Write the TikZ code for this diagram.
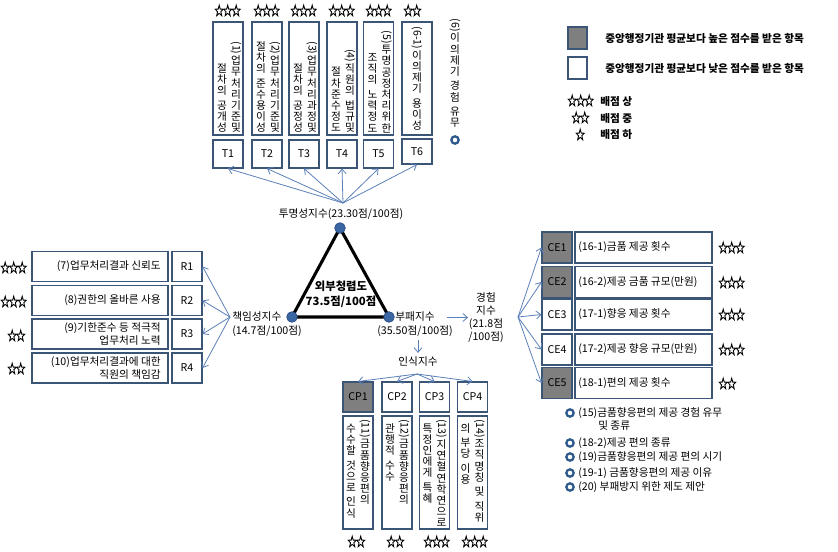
\documentclass[tikz,border=0pt]{standalone}
\usepackage{fontspec}
\setmainfont{Noto Sans CJK KR}
\usetikzlibrary{arrows.meta}
\definecolor{boxc}{HTML}{3B5576}
\definecolor{arrc}{HTML}{5B80B8}
\definecolor{dotc}{HTML}{3A66A4}
\definecolor{dotb}{HTML}{2B4D7E}
\definecolor{grayf}{HTML}{7F7F7F}
\definecolor{ringc}{HTML}{2F5A8C}
\newcommand\rp[1]{\rotatebox[origin=c]{-90}{#1}}
% stars: count, left x, centre y
\newcommand\starsat[3]{\foreach \i in {1,...,#1} \pic at ({#2+4.2+8.5*(\i-1)},#3) {starp};}
\ExplSyntaxOn
\cs_new:Npn \my_vitems:n #1
  {
    \baselineskip=8.4pt\relax
    \lineskiplimit=0pt\relax
    \lineskip=1pt\relax
    \tl_map_inline:nn {#1}
      {
        \str_if_eq:nnTF {##1} {|}
          { \kern 2.5pt\relax }
          { \hbox_to_wd:nn {1.05em} { \hss ##1 \hss } }
      }
  }
\NewDocumentCommand\vcolB{m}{\vbox{\my_vitems:n{#1}}}
\NewDocumentCommand\vcolT{m}{\vtop{\my_vitems:n{#1}}}
\ExplSyntaxOff
\begin{document}
\begin{tikzpicture}[x=0.75pt,y=-0.75pt,
  every node/.style={font=\fontsize{8pt}{10pt}\selectfont, inner sep=0pt},
  bx/.style 2 args={draw=boxc, line width=0.8pt, minimum width=#1*0.75pt, minimum height=#2*0.75pt, fill=white},
  gbx/.style 2 args={bx={#1}{#2}, fill=grayf},
  arr/.style={draw=arrc, line width=0.6pt, -{Straight Barb[length=3.5pt,width=6pt]}},
  dot/.style={circle, fill=dotc, draw=dotb, line width=0.5pt, minimum size=8pt},
  ring/.style={circle, draw=ringc, line width=1.7pt, minimum size=5.5pt, fill=white},
  lgd/.style={font=\bfseries\fontsize{8pt}{10pt}\selectfont},
  starp/.pic={\draw[line width=0.65pt, line join=miter, yscale=1.35]
     (-90:4.3) -- (-54:1.75) -- (-18:4.3) -- (18:1.75) -- (54:4.3) -- (90:1.75)
     -- (126:4.3) -- (162:1.75) -- (198:4.3) -- (234:1.75) -- cycle;},
]
\useasboundingbox (0,0) rectangle (838,552);

% ---------- top: transparency ----------
\node[bx={30}{113}] (T1b) at (228,78.5) {};
\node[bx={30}{113}] (T2b) at (267,78.5) {};
\node[bx={30}{113}] (T3b) at (304,78.5) {};
\node[bx={30}{113}] (T4b) at (342,78.5) {};
\node[bx={30}{113}] (T5b) at (378.5,78.5) {};
\node[bx={30}{113}] (T6b) at (417,78.5) {};
\node[anchor=south] (T1t) at (229,133) {\vcolB{절차의|공개성}\hskip2pt\vcolB{{\rp{(1)}}업무처리기준및}};
\node[anchor=south] (T2t) at (268,133) {\vcolB{절차의|준수용이성}\hskip2pt\vcolB{{\rp{(2)}}업무처리기준및}};
\node[anchor=south] (T3t) at (305,133) {\vcolB{절차의|공정성}\hskip2pt\vcolB{{\rp{(3)}}업무처리과정및}};
\node[anchor=south] (T4t) at (343,133) {\vcolB{절차준수정도}\hskip2pt\vcolB{{\rp{(4)}}직원의|법규및}};
\node[anchor=south] (T5t) at (379.5,133) {\vcolB{조직의|노력정도}\hskip2pt\vcolB{{\rp{(5)}}투명공정처리위한}};
\node[anchor=south] (T6t) at (417,131) {\vcolB{{\rp{(6-1)}}이의제기|용이성}};
\node[anchor=south] (T7t) at (455,128) {\vcolB{{\rp{(6)}}이의제기|경험|유무}};
\node[ring] (T7r) at (455,140) {};

\node[bx={30}{28}] (T1) at (228,154) {T1};
\node[bx={30}{28}] (T2) at (267,154) {T2};
\node[bx={30}{28}] (T3) at (304,154) {T3};
\node[bx={30}{28}] (T4) at (342,154) {T4};
\node[bx={30}{28}] (T5) at (378.5,154) {T5};
\node[bx={30}{25}] (T6) at (417,151.5) {T6};

\starsat{3}{215}{11}
\starsat{3}{254}{11}
\starsat{3}{291}{11}
\starsat{3}{329}{11}
\starsat{3}{366}{11}
\starsat{2}{404}{11}

\coordinate (TP) at (343,203);
\foreach \t in {T1,T2,T3,T4,T5,T6} \draw[arr] (TP) -- (\t.south);
\node (TL) at (341,214) {투명성지수(23.30점/100점)};

% ---------- triangle ----------
\coordinate (v1) at (340,228);
\coordinate (v2) at (292,317);
\coordinate (v3) at (389,317);
\draw[line width=2.3pt, line join=miter] (v1) -- (v2) -- (v3) -- cycle;
\node[dot] (V1) at (v1) {};
\node[dot] (V2) at (v2) {};
\node[dot] (V3) at (v3) {};
\node[align=center, font=\bfseries\fontsize{8.5pt}{11pt}\selectfont] (IN) at (341,294) {외부청렴도\\73.5점/100점};

\node[anchor=west, align=left, font=\fontsize{8pt}{10.5pt}\selectfont] (RL) at (232,324) {책임성지수\\(14.7점/100점)};
\node[align=center, font=\fontsize{8pt}{10.5pt}\selectfont] (BL) at (415,324) {부패지수\\(35.50점/100점)};
\node[align=center, font=\fontsize{8pt}{9.8pt}\selectfont] (EX) at (486,317.5) {경험\\지수\\(21.8점\\/100점)};
\coordinate (a1) at (447,317.5);
\draw[arr] (a1) -- (EX.west);
\node (IS) at (418,362) {인식지수};
\coordinate (a2) at (418,340);
\draw[arr, shorten >=3pt] (a2) -- (IS.north);

% ---------- left: responsibility ----------
\node[bx={136}{30}] (R1b) at (100,266.5) {};
\node[bx={136}{30}] (R2b) at (100,300.5) {};
\node[bx={136}{30}] (R3b) at (100,334) {};
\node[bx={136}{30}] (R4b) at (100,368) {};
\node[anchor=east, align=right] (R1t) at (161,266.5) {(7)업무처리결과 신뢰도};
\node[anchor=east, align=right] (R2t) at (161,300.5) {(8)권한의 올바른 사용};
\node[anchor=east, align=right] (R3t) at (161,334) {(9)기한준수 등 적극적\\업무처리 노력};
\node[anchor=east, align=right] (R4t) at (161,368) {(10)업무처리결과에 대한\\직원의 책임감};
\node[bx={30}{30}] (R1) at (187,266.5) {R1};
\node[bx={30}{30}] (R2) at (187,300.5) {R2};
\node[bx={30}{30}] (R3) at (187,334) {R3};
\node[bx={30}{30}] (R4) at (187,368) {R4};
\starsat{3}{1}{268}
\starsat{3}{1}{302}
\starsat{2}{8}{336}
\starsat{2}{8}{369}
\coordinate (RP) at (230,317);
\foreach \r in {R1,R2,R3,R4} \draw[arr] (RP) -- (\r.east);

% ---------- right: experience ----------
\node[gbx={30}{31}] (CE1) at (557,247.5) {CE1};
\node[gbx={30}{31}] (CE2) at (557,282) {CE2};
\node[bx={30}{31}] (CE3) at (557,314.5) {CE3};
\node[bx={30}{31}] (CE4) at (557,349.5) {CE4};
\node[gbx={30}{31}] (CE5) at (557,383) {CE5};
\node[bx={137}{31}] (CE1b) at (643.5,247.5) {};
\node[bx={137}{31}] (CE2b) at (643.5,282) {};
\node[bx={137}{31}] (CE3b) at (643.5,314.5) {};
\node[bx={137}{31}] (CE4b) at (643.5,349.5) {};
\node[bx={137}{31}] (CE5b) at (643.5,383) {};
\node[anchor=west] (CE1t) at (578,247.5) {(16-1)금품 제공 횟수};
\node[anchor=west] (CE2t) at (578,282) {(16-2)제공 금품 규모(만원)};
\node[anchor=west] (CE3t) at (578,314.5) {(17-1)향응 제공 횟수};
\node[anchor=west] (CE4t) at (578,349.5) {(17-2)제공 향응 규모(만원)};
\node[anchor=west] (CE5t) at (578,383) {(18-1)편의 제공 횟수};
\starsat{3}{719}{248}
\starsat{3}{719}{283}
\starsat{3}{719}{315}
\starsat{3}{719}{350}
\starsat{2}{719}{384}
\coordinate (CEP) at (518,317);
\foreach \c in {CE1,CE2,CE3,CE4,CE5} \draw[arr] (CEP) -- (\c.west);

\node[ring] (B1r) at (570,413) {};
\node[anchor=west] (B1t) at (578,413) {(15)금품향응편의 제공 경험 유무};
\node[anchor=west] (B1u) at (598,426) {및 종류};
\node[ring] (B2r) at (570,443) {};
\node[anchor=west] (B2t) at (578,443) {(18-2)제공 편의 종류};
\node[ring] (B3r) at (570,457) {};
\node[anchor=west] (B3t) at (578,457) {(19)금품향응편의 제공 편의 시기};
\node[ring] (B4r) at (570,473) {};
\node[anchor=west] (B4t) at (578,473) {(19-1) 금품향응편의 제공 이유};
\node[ring] (B5r) at (570,487) {};
\node[anchor=west] (B5t) at (578,487) {(20) 부패방지 위한 제도 제안};

% ---------- bottom: perception ----------
\node[gbx={30}{30}] (CP1) at (358,397) {CP1};
\node[bx={30}{30}] (CP2) at (397,397) {CP2};
\node[bx={30}{30}] (CP3) at (434.5,397) {CP3};
\node[bx={30}{30}] (CP4) at (472.5,397) {CP4};
\node[bx={30}{113}] (CP1b) at (358,472.5) {};
\node[bx={30}{113}] (CP2b) at (397,472.5) {};
\node[bx={30}{113}] (CP3b) at (434.5,472.5) {};
\node[bx={30}{113}] (CP4b) at (472.5,472.5) {};
\node[anchor=north] (CP1t) at (358,419) {\vcolT{수수할|것으로|인식}\hskip2pt\vcolT{{\rp{(11)}}금품향응편의}};
\node[anchor=north] (CP2t) at (397,419) {\vcolT{관행적|수수}\hskip2pt\vcolT{{\rp{(12)}}금품향응편의}};
\node[anchor=north] (CP3t) at (434.5,419) {\vcolT{특정인에게|특혜}\hskip2pt\vcolT{{\rp{(13)}}지연혈연학연으로}};
\node[anchor=north] (CP4t) at (472.5,419) {\vcolT{의|부당|이용}\hskip2pt\vcolT{{\rp{(14)}}조직명칭|및|직위}};
\starsat{2}{348}{542}
\starsat{2}{387}{542}
\starsat{3}{424}{542}
\starsat{3}{462}{542}
\coordinate (IP) at (417,374);
\foreach \p in {CP1,CP2,CP3,CP4} \draw[arr] (IP) -- (\p.north);

% ---------- legend ----------
\node[gbx={19}{22}] (LG1) at (577.5,38) {};
\node[bx={19}{22}] (LG2) at (577.5,68) {};
\node[lgd, anchor=west] (LG1t) at (605,38) {중앙행정기관 평균보다 높은 점수를 받은 항목};
\node[lgd, anchor=west] (LG2t) at (605,68) {중앙행정기관 평균보다 낮은 점수를 받은 항목};
\starsat{3}{568}{101}
\starsat{2}{572}{118}
\starsat{1}{576}{135}
\node[lgd, anchor=west] (LS3t) at (600,102) {배점 상};
\node[lgd, anchor=west] (LS2t) at (600,119) {배점 중};
\node[lgd, anchor=west] (LS1t) at (600,135) {배점 하};
\end{tikzpicture}
\end{document}
